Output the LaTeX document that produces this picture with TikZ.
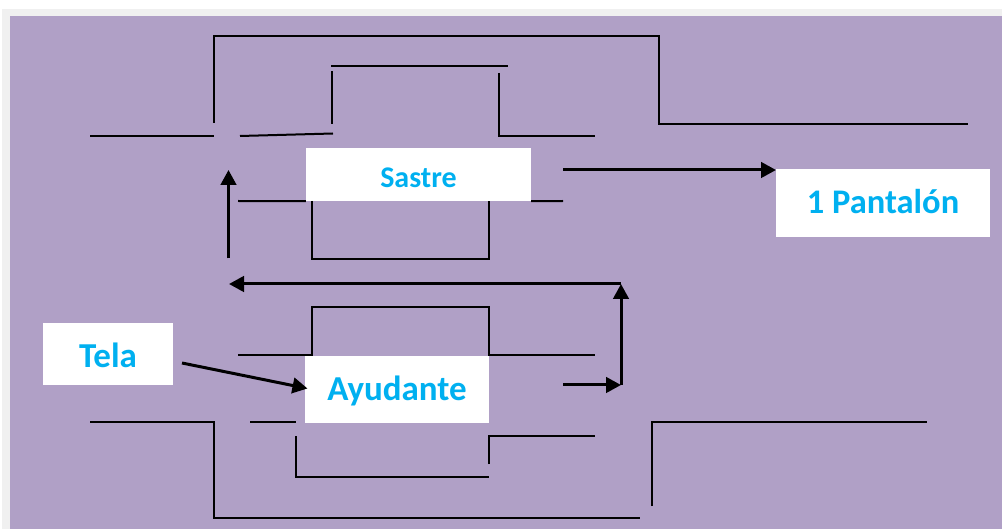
\documentclass[tikz,border=0pt]{standalone}
\usepackage{fontspec}
\setmainfont{Carlito}
\usetikzlibrary{arrows.meta}
\definecolor{bgpurple}{HTML}{B0A0C6}
\definecolor{edgegrey}{HTML}{F0F0F0}
\definecolor{labelblue}{HTML}{00B0F0}
\newcommand{\shifted}[2]{\raisebox{#1}[0pt][0pt]{#2}}
\tikzset{
  wire/.style={draw=black,line width=2pt,line join=miter},
  flow/.style={draw=black,line width=3pt,-{Triangle[length=15pt,width=15.5pt]}},
  labelbox/.style={fill=white,draw=none,inner sep=0pt,text=labelblue,font=\bfseries,align=center},
}
\begin{document}
\begin{tikzpicture}[x=1pt,y=-1pt]
\useasboundingbox (0,0) rectangle (1002,529);
\fill[white] (0,0) rectangle (1002,529);
\fill[edgegrey] (2,9) rectangle (1002,529);
\fill[bgpurple] (10,16) rectangle (1002,529);
% boxes
\node[labelbox,minimum width=225pt,minimum height=53pt,font=\bfseries\fontsize{30}{32}\selectfont] (sastre) at (418.5,174.5) {\shifted{-13pt}{Sastre}};
\node[labelbox,minimum width=214pt,minimum height=68pt,font=\bfseries\fontsize{34.5}{36}\selectfont] (pantalon) at (883,203) {\shifted{-11pt}{1 Pantalón}};
\node[labelbox,minimum width=130pt,minimum height=62pt,font=\bfseries\fontsize{35}{37}\selectfont] (tela) at (108,354) {\shifted{-14pt}{Tela}};
\node[labelbox,minimum width=184pt,minimum height=67pt,font=\bfseries\fontsize{35}{37}\selectfont] (ayudante) at (397,389.5) {\shifted{-11pt}{Ayudante}};
% top big pipe
\draw[wire] (90,136) -- (214,136);
\draw[wire] (214,123) -- (214,36) -- (659,36) -- (659,124) -- (968,124);
% top inner pipe
\draw[wire] (240,136) -- (333,133.5);
\draw[wire] (331.5,124) -- (331.5,71);
\draw[wire] (331,66) -- (508,66);
\draw[wire] (499,73) -- (499,136) -- (595,136);
% tailor lower lines
\coordinate (sl) at (238,201);
\coordinate (sr) at (563,201);
\draw[wire] (sl) -- (sastre.south west);
\draw[wire] (sastre.south east) -- (sr);
\draw[wire] (312,201) -- (312,259) -- (489,259) -- (489,201);
% helper upper lines
\coordinate (al) at (238,355.5);
\draw[wire] (al) -- (312,355.5) -- (312,307) -- (489,307) -- (489,355.5) -- (595,355.5);
% bottom
\draw[wire] (90,422) -- (214,422) -- (214,518) -- (640,518);
\draw[wire] (250,422) -- (296,422);
\draw[wire] (296,436) -- (296,477) -- (489,477);
\draw[wire] (489,464) -- (489,436) -- (595,436);
\draw[wire] (652,506) -- (652,422) -- (927,422);
% arrows
\coordinate (u1) at (228.5,258.5);
\coordinate (u2) at (228.5,170);
\coordinate (r1) at (563,170);
\coordinate (r2) at (776,170);
\coordinate (c1) at (621,284);
\coordinate (c2) at (229,284);
\coordinate (c3) at (621,385);
\coordinate (c4) at (563,385);
\coordinate (t1) at (182,363);
\coordinate (t2) at (307.5,388.5);
\draw[flow] (u1) -- (u2);
\draw[flow] (r1) -- (r2);
\draw[flow] (c1) -- (c2);
\draw[flow] (c3) -- (c1);
\draw[flow] (c4) -- (c3);
\draw[flow] (t1) -- (t2);
\end{tikzpicture}
\end{document}
